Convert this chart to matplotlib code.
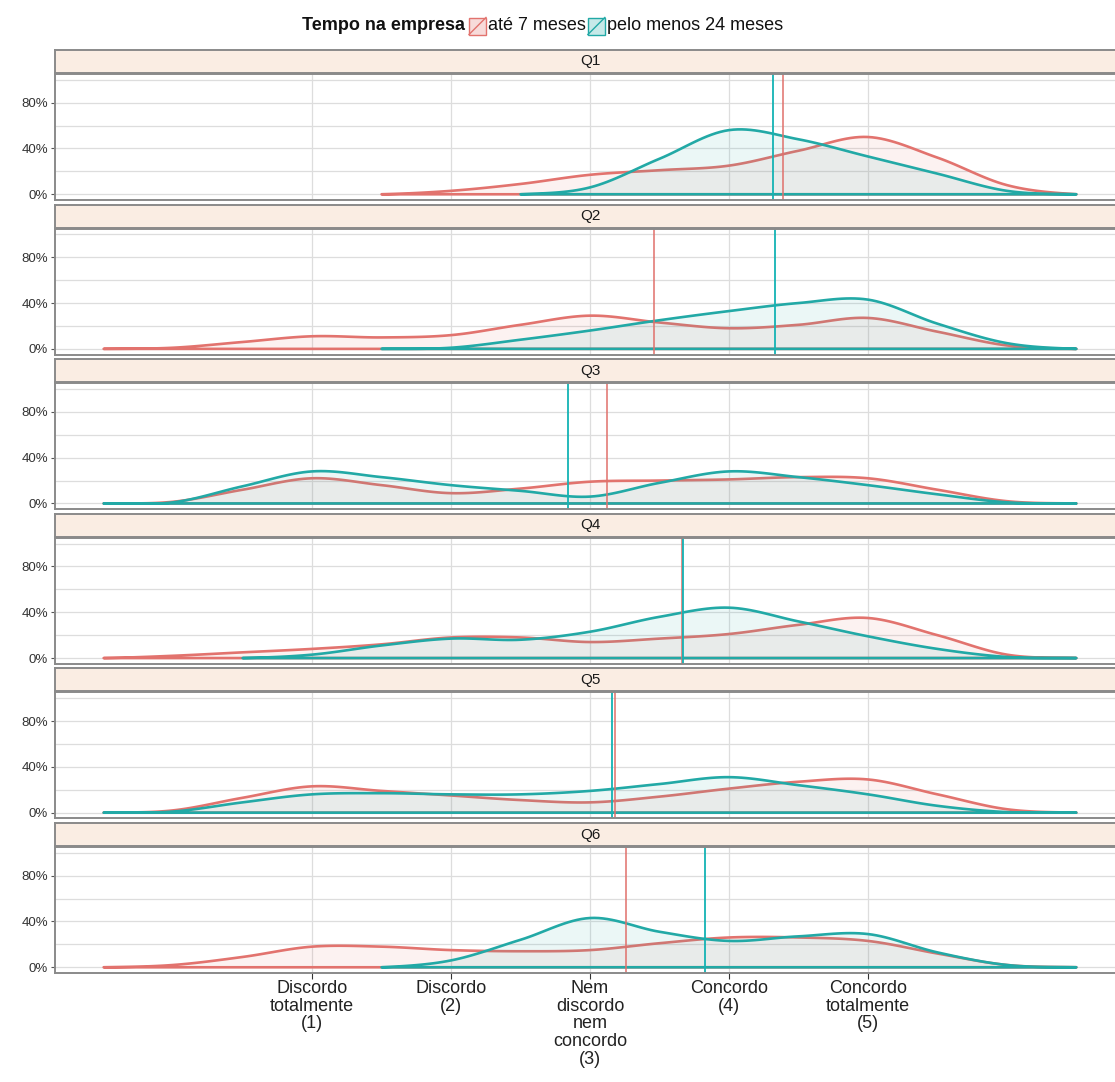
import numpy as np
import matplotlib
matplotlib.use("Agg")
import matplotlib.pyplot as plt
from matplotlib.colors import to_rgba
from matplotlib.patches import Rectangle
from matplotlib.lines import Line2D

plt.rcParams['font.family'] = ['Liberation Sans', 'DejaVu Sans']

# grelha comum onde as curvas foram lidas
x_grid = [-0.5, 0, 0.5, 1, 1.5, 2, 2.5, 3, 3.5, 4, 4.5, 5, 5.5, 6, 6.5]
nan = np.nan

questoes = ['Q1', 'Q2', 'Q3', 'Q4', 'Q5', 'Q6']
grupos = ['até 7 meses', 'pelo menos 24 meses']

dens_ate7 = [
    [nan, nan, nan, nan, 0, 0.03, 0.09, 0.17, 0.21, 0.25, 0.38, 0.50, 0.32, 0.08, 0],
    [0, 0.01, 0.06, 0.11, 0.10, 0.12, 0.21, 0.29, 0.23, 0.18, 0.21, 0.27, 0.15, 0.03, 0],
    [0, 0.015, 0.12, 0.22, 0.16, 0.09, 0.13, 0.19, 0.20, 0.21, 0.23, 0.22, 0.12, 0.02, 0],
    [0, 0.02, 0.05, 0.08, 0.12, 0.18, 0.18, 0.14, 0.17, 0.21, 0.29, 0.35, 0.20, 0.03, 0],
    [0, 0.02, 0.13, 0.23, 0.19, 0.15, 0.11, 0.09, 0.14, 0.21, 0.27, 0.29, 0.16, 0.03, 0],
    [0, 0.02, 0.09, 0.18, 0.18, 0.15, 0.14, 0.15, 0.21, 0.26, 0.26, 0.23, 0.12, 0.02, 0],
]
dens_24 = [
    [nan, nan, nan, nan, nan, nan, 0, 0.06, 0.31, 0.56, 0.48, 0.33, 0.18, 0.03, 0],
    [nan, nan, nan, nan, 0, 0.01, 0.08, 0.16, 0.25, 0.33, 0.40, 0.43, 0.22, 0.05, 0],
    [0, 0.01, 0.15, 0.28, 0.23, 0.16, 0.11, 0.06, 0.18, 0.28, 0.23, 0.16, 0.08, 0.01, 0],
    [nan, nan, 0, 0.03, 0.11, 0.17, 0.16, 0.23, 0.36, 0.44, 0.32, 0.19, 0.08, 0.01, 0],
    [0, 0.01, 0.09, 0.16, 0.17, 0.16, 0.16, 0.19, 0.25, 0.31, 0.24, 0.16, 0.06, 0.005, 0],
    [nan, nan, nan, nan, 0, 0.06, 0.24, 0.43, 0.31, 0.23, 0.27, 0.29, 0.13, 0.02, 0],
]
media_ate7 = [4.39, 3.46, 3.12, 3.66, 3.18, 3.26]
media_24 = [4.32, 4.33, 2.84, 3.67, 3.16, 3.83]

x_labels = ['Discordo\ntotalmente\n(1)', 'Discordo\n(2)',
            'Nem\ndiscordo\nnem\nconcordo\n(3)', 'Concordo\n(4)',
            'Concordo\ntotalmente\n(5)']

cor = ['#E2736E', '#22A9A6']
cor_vline = ['#E0706B', '#14B3B4']


def suave(x, y, n=16):
    # curva de Catmull-Rom so para desenhar
    x = np.asarray(x, float)
    y = np.asarray(y, float)
    ok = ~np.isnan(y)
    x, y = x[ok], y[ok]
    xs, ys = [], []
    t = np.linspace(0, 1, n, endpoint=False)
    for i in range(len(x) - 1):
        p0 = y[i - 1] if i > 0 else y[i]
        p3 = y[i + 2] if i + 2 < len(y) else y[i + 1]
        p1, p2 = y[i], y[i + 1]
        seg = 0.5 * (2 * p1 + (-p0 + p2) * t + (2 * p0 - 5 * p1 + 4 * p2 - p3) * t ** 2
                     + (-p0 + 3 * p1 - 3 * p2 + p3) * t ** 3)
        xs.extend(x[i] + (x[i + 1] - x[i]) * t)
        ys.extend(seg)
    xs.append(x[-1])
    ys.append(y[-1])
    return np.array(xs), np.clip(np.array(ys), 0, None)


W, H = 1115, 1082
fig = plt.figure(figsize=(W / 100, H / 100), dpi=100)

left_px = 55
width_px = 1070
strip_h = 23
panel_h = 126
passo = 154.6

for i, q in enumerate(questoes):
    top = 50 + i * passo
    # faixa do titulo
    sax = fig.add_axes([left_px / W, 1 - (top + strip_h) / H, width_px / W, strip_h / H])
    sax.set_facecolor('#FAEDE3')
    sax.set_xticks([])
    sax.set_yticks([])
    for s in sax.spines.values():
        s.set_color('#8A8A8A')
        s.set_linewidth(1.4)
    sax.text(0.5 * 1070 / width_px, 0.5, q, transform=sax.transAxes, ha='center', va='center',
             fontsize=11, color='#1A1A1A')
    sax.text(0.5, 0.5, '', transform=sax.transAxes)

    ptop = top + strip_h + 1
    ax = fig.add_axes([left_px / W, 1 - (ptop + panel_h) / H, width_px / W, panel_h / H])
    ax.set_xlim(-0.85, 6.85)
    ax.set_ylim(-0.05, 1.05)
    ax.set_xticks([1, 2, 3, 4, 5])
    ax.set_yticks([0, 0.4, 0.8])
    ax.set_yticks([0.2, 0.6, 1.0], minor=True)
    ax.set_yticklabels(['0%', '40%', '80%'])
    ax.grid(True, which='both', color='#DDDDDD', lw=0.9)
    ax.set_axisbelow(True)
    ax.tick_params(axis='y', which='major', length=3, color='#555555', labelsize=9.5,
                   labelcolor='#333333', pad=2)
    ax.tick_params(axis='y', which='minor', length=0)
    for s in ax.spines.values():
        s.set_color('#8A8A8A')
        s.set_linewidth(1.4)

    for g, dens in enumerate([dens_ate7[i], dens_24[i]]):
        xs, ys = suave(x_grid, dens)
        px = np.concatenate([xs, [xs[-1], xs[0]]])
        py = np.concatenate([ys, [0, 0]])
        ax.fill(px, py, facecolor=to_rgba(cor[g], 0.09), edgecolor=cor[g], lw=1.9,
                joinstyle='round')
    ax.axvline(media_ate7[i], color=cor_vline[0], lw=1.1)
    ax.axvline(media_24[i], color=cor_vline[1], lw=1.3)

    if i == len(questoes) - 1:
        ax.set_xticklabels(x_labels)
        ax.tick_params(axis='x', length=4, color='#333333', labelsize=13,
                       labelcolor='#222222', pad=1)
        for lbl in ax.get_xticklabels():
            lbl.set_linespacing(1.05)
    else:
        ax.tick_params(axis='x', length=0, labelbottom=False)

# legenda no topo
renderer = fig.canvas.get_renderer()
y_leg = 1 - 26 / H
t = fig.text(302 / W, y_leg, 'Tempo na empresa', fontsize=13, fontweight='bold',
             ha='left', va='center', color='#111111')
x_px = t.get_window_extent(renderer).x1 + 4
for g, nome in enumerate(grupos):
    k = 17
    fig.add_artist(Rectangle((x_px / W, (H - 26 - k / 2) / H), k / W, k / H,
                             transform=fig.transFigure, facecolor=to_rgba(cor[g], 0.25),
                             edgecolor=cor[g], lw=1))
    fig.add_artist(Line2D([x_px / W, (x_px + k) / W], [(H - 26 - k / 2) / H, (H - 26 + k / 2) / H],
                          transform=fig.transFigure, color=cor[g], lw=1))
    tt = fig.text((x_px + k + 2) / W, y_leg, nome, fontsize=13, ha='left', va='center',
                  color='#111111')
    x_px = tt.get_window_extent(renderer).x1 + 2

fig.savefig('out.png', dpi=100)
